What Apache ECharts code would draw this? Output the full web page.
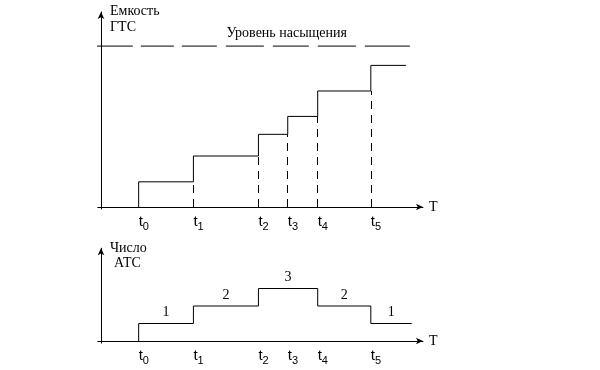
<!DOCTYPE html>
<html><head><meta charset="utf-8">
<script src="https://cdn.jsdelivr.net/npm/echarts@6/dist/echarts.min.js"></script>
<style>html,body{margin:0;padding:0;background:#fff}#c{width:600px;height:370px}</style>
</head><body><div id="c"></div>
<script>
// ---- data ----
const tickLabels = ['t0', 't1', 't2', 't3', 't4', 't5'];
const tTimes = [1.17, 2.87, 4.89, 5.80, 6.73, 8.38];
const capacityLevels = [1.28, 2.59, 3.69, 4.60, 5.89, 7.19];
const capacityEnd = 9.47;
const saturationLevel = 8.17;
const saturationSpan = [-0.16, 9.62];
const atsTimes = [1.17, 2.87, 4.89, 6.73, 8.38];
const atsCounts = [1, 2, 3, 2, 1];
const atsEnd = 9.65;

const SERIF = "'Liberation Serif', 'Times New Roman', serif";
const SANS = "'Liberation Sans', Arial, sans-serif";

// ---- derived series data ----
const capacityStep = [[tTimes[0], 0]]
  .concat(tTimes.map((t, i) => [t, capacityLevels[i]]))
  .concat([[capacityEnd, capacityLevels[capacityLevels.length - 1]]]);
const capacityGuides = tTimes.slice(1).map((t, i) => ({ coords: [[t, 0], [t, capacityLevels[i]]] }));
const saturationLine = saturationSpan.map(x => [x, saturationLevel]);
const atsStep = [[atsTimes[0], 0]]
  .concat(atsTimes.map((t, i) => [t, atsCounts[i]]))
  .concat([[atsEnd, atsCounts[atsCounts.length - 1]]]);
const atsLabelPts = atsTimes.map((t, i) => {
  const next = i + 1 < atsTimes.length ? atsTimes[i + 1] : atsEnd;
  return [(t + next) / 2, atsCounts[i]];
});

function tickFormatter(v) {
  let idx = 0, best = Infinity;
  tTimes.forEach((t, i) => { const d = Math.abs(t - v); if (d < best) { best = d; idx = i; } });
  const lab = tickLabels[idx];
  return '{t|' + lab.charAt(0) + '}{s|' + lab.slice(1) + '}';
}

function makeX(gi) {
  return {
    gridIndex: gi, type: 'value', min: -0.1, max: 10,
    name: 'T', nameLocation: 'end', nameGap: 6,
    nameTextStyle: { fontFamily: SERIF, fontSize: 14, color: '#000' },
    axisLine: { onZero: true, symbol: ['none', 'arrow'], symbolSize: [5, 7], lineStyle: { color: '#000', width: 1 } },
    axisTick: { show: false },
    splitLine: { show: false },
    axisLabel: {
      customValues: tTimes, formatter: tickFormatter, margin: 5, align: 'left', verticalAlign: 'top',
      color: '#000',
      rich: {
        t: { fontFamily: SANS, fontSize: 15, lineHeight: 16, color: '#000' },
        s: { fontFamily: SANS, fontSize: 11, lineHeight: 16, padding: [9, 0, 0, 0], color: '#000' }
      }
    }
  };
}

const chart = echarts.init(document.getElementById('c'), null, { renderer: 'canvas' });
chart.setOption({
  animation: false,
  backgroundColor: '#fff',
  grid: [
    { left: 97.78, top: 12, width: 325.2, height: 197 },
    { left: 97.78, top: 248.25, width: 325.2, height: 94.85 }
  ],
  xAxis: [makeX(0), makeX(1)],
  yAxis: [
    {
      gridIndex: 0, type: 'value', min: -0.1, max: 9.9,
      name: 'Емкость\nГТС', nameLocation: 'end', nameGap: 8.25,
      nameTextStyle: { fontFamily: SERIF, fontSize: 14, lineHeight: 15.5, color: '#000', align: 'left', verticalAlign: 'top', padding: [0, 0, 0, 9] },
      axisLine: { onZero: true, symbol: ['none', 'arrow'], symbolSize: [5, 7], lineStyle: { color: '#000', width: 1 } },
      axisTick: { show: false }, axisLabel: { show: false }, splitLine: { show: false }
    },
    {
      gridIndex: 1, type: 'value', min: -0.12, max: 5.3,
      name: '{a|Число}\n{b|АТС}', nameLocation: 'end', nameGap: 8,
      nameTextStyle: {
        fontFamily: SERIF, fontSize: 14, lineHeight: 15.7, color: '#000', align: 'left', verticalAlign: 'top', padding: [0, 0, 0, 9],
        rich: {
          a: { fontFamily: SERIF, fontSize: 14, lineHeight: 15.7, color: '#000' },
          b: { fontFamily: SERIF, fontSize: 14, lineHeight: 15.7, color: '#000', padding: [0, 0, 0, 4] }
        }
      },
      axisLine: { onZero: true, symbol: ['none', 'arrow'], symbolSize: [5, 7], lineStyle: { color: '#000', width: 1 } },
      axisTick: { show: false }, axisLabel: { show: false }, splitLine: { show: false }
    }
  ],
  graphic: [
    { type: 'text', x: 286.7, y: 33, style: { text: 'Уровень насыщения', font: '14px ' + SERIF, fill: '#000', align: 'center', verticalAlign: 'middle' } }
  ],
  series: [
    {
      type: 'line', xAxisIndex: 0, yAxisIndex: 0, step: 'end', data: capacityStep,
      symbol: 'none', lineStyle: { color: '#000', width: 1 }, silent: true
    },
    {
      type: 'lines', coordinateSystem: 'cartesian2d', xAxisIndex: 0, yAxisIndex: 0, data: capacityGuides,
      lineStyle: { color: '#000', width: 1, type: [8, 6], opacity: 1 }, silent: true
    },
    {
      type: 'line', xAxisIndex: 0, yAxisIndex: 0, data: saturationLine, clip: false,
      symbol: 'none', lineStyle: { color: '#000', width: 1, type: [37, 8, 33, 8, 35, 9, 38, 9, 36, 9, 38, 9, 45, 9] }, silent: true
    },
    {
      type: 'line', xAxisIndex: 1, yAxisIndex: 1, step: 'end', data: atsStep,
      symbol: 'none', lineStyle: { color: '#000', width: 1 }, silent: true
    },
    {
      type: 'scatter', xAxisIndex: 1, yAxisIndex: 1, data: atsLabelPts, symbolSize: 0, silent: true,
      itemStyle: { opacity: 1, color: '#000' },
      label: { show: true, position: 'top', distance: 4, formatter: p => String(p.value[1]), fontFamily: SERIF, fontSize: 14, color: '#000', opacity: 1 }
    }
  ]
});
</script></body></html>
